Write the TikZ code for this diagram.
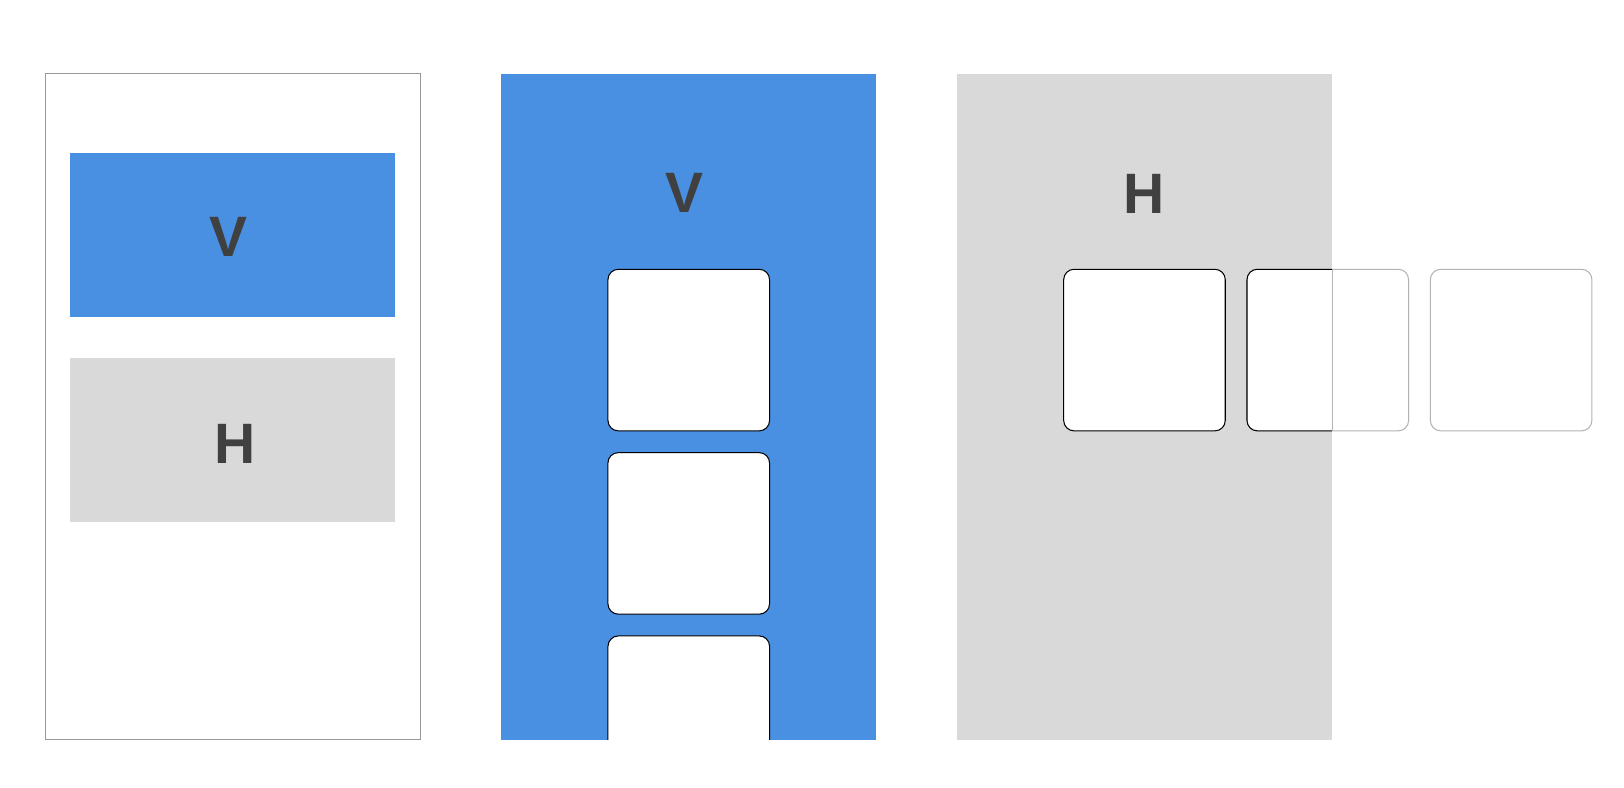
\documentclass[tikz,border=0pt]{standalone}
\usepackage{fontspec}
\setmainfont{Liberation Sans}
\usetikzlibrary{positioning,calc}
\definecolor{panelblue}{HTML}{4A90E2}
\definecolor{panelgray}{HTML}{D9D9D9}
\definecolor{framegray}{HTML}{999999}
\definecolor{cardgray}{HTML}{B3B3B3}
\definecolor{labelgray}{HTML}{404040}
\newcommand{\CardSize}{78pt}
\newcommand{\CardGap}{10.5pt}
\tikzset{
	panel/.style={minimum width=181pt, minimum height=321.5pt, inner sep=0pt, outer sep=0pt, anchor=north west},
	block/.style={minimum width=156.5pt, minimum height=79pt, inner sep=0pt, outer sep=0pt, anchor=north west},
	card/.style={draw=black, line width=0.5pt, fill=white, rounded corners=5pt, minimum width=\CardSize, minimum height=\CardSize, inner sep=0pt, outer sep=0pt},
	ghostcard/.style={card, draw=cardgray},
	letter/.style={text=labelgray, font=\fontsize{27.5}{27.5}\selectfont\bfseries, inner sep=0pt}
}
\begin{document}
\begin{tikzpicture}[x=1pt, y=1pt]
		\useasboundingbox (0,0) rectangle (784,-380);
		% overview
		\node[panel, draw=framegray, line width=0.5pt] (frame) at (22,-35.5) {};
		\node[block, fill=panelblue] (vblock) at (34,-74) {};
		\node[block, fill=panelgray, below=20pt of vblock.south west, anchor=north west] (hblock) {};
		\node[letter] (vtag) at ($(vblock.center) + (-1.75pt, -0.75pt)$) {V};
		\node[letter] (htag) at ($(hblock.center) + (1.25pt, -1.75pt)$) {H};
		% vertical stack
		\node[panel, fill=panelblue] (vpanel) at (242,-35.5) {};
		\node[letter] (vtitle) at (330.5,-93.25) {V};
		\begin{scope}
			\clip (vpanel.north west) rectangle (vpanel.south east);
			\node[card, anchor=north west] (v1) at (293.5,-130) {};
			\node[card, below=\CardGap of v1] (v2) {};
			\node[card, below=\CardGap of v2] (v3) {};
		\end{scope}
		% horizontal stack
		\node[panel, fill=panelgray] (hpanel) at (462,-35.5) {};
		\node[letter] (htitle) at (552.5,-93.75) {H};
		\node[ghostcard, anchor=north west] (h2) at (602,-130) {};
		\node[ghostcard, right=\CardGap of h2] (h3) {};
		\begin{scope}
			\clip (hpanel.north west) rectangle (hpanel.south east);
			\node[card, anchor=north west] (h1) at (513.5,-130) {};
			\node[card, right=\CardGap of h1] (h2in) {};
		\end{scope}
		\draw[cardgray, line width=0.3pt] (h2.north -| hpanel.east) -- (h2.south -| hpanel.east);
	\end{tikzpicture}
\end{document}
